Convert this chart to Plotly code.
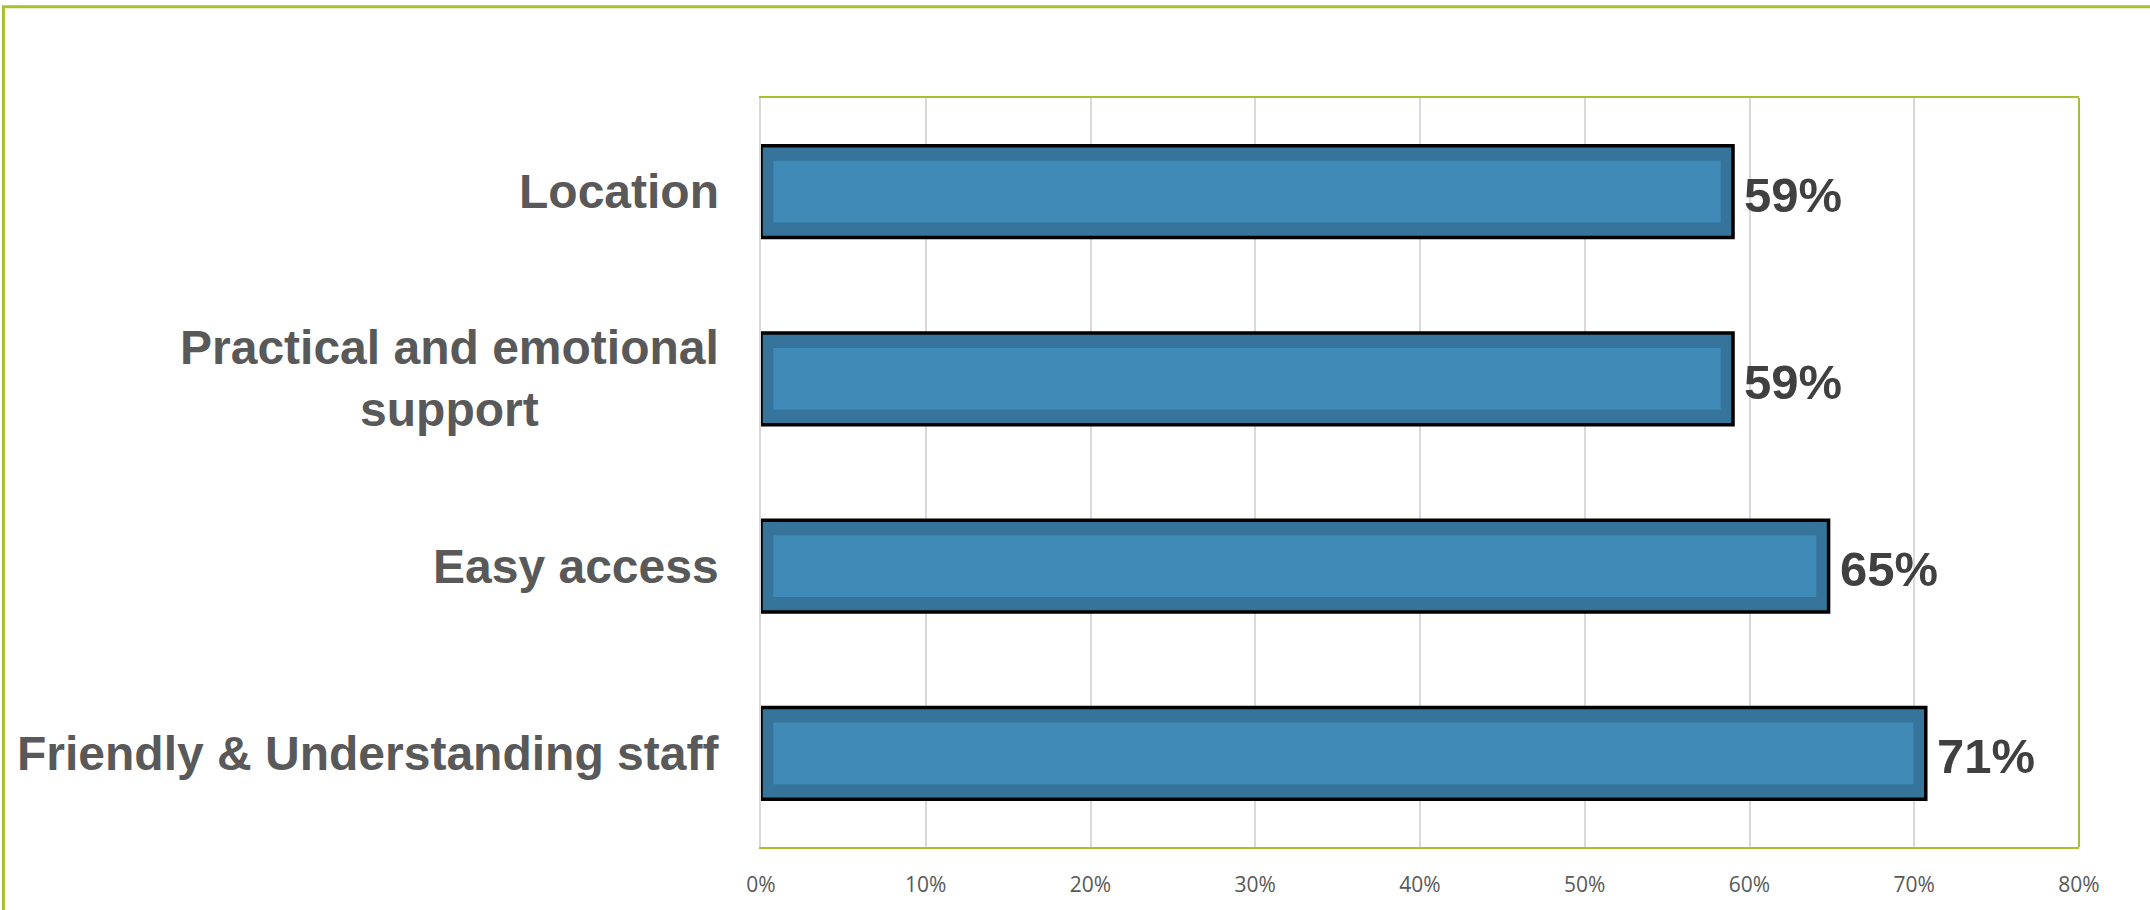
import plotly.graph_objects as go

categories = ["Friendly & Understanding staff", "Easy access",
              "Practical and emotional<br>support", "Location"]
values = [0.707, 0.648, 0.59, 0.59]
tick_vals = [0, 0.1, 0.2, 0.3, 0.4, 0.5, 0.6, 0.7, 0.8]
tick_text = ["0%", "10%", "20%", "30%", "40%", "50%", "60%", "70%", "80%"]

GREEN = "#A8BF2E"
OUTER = "#36749B"
INNER = "#3F8AB6"
INSET = 0.0075

fig = go.Figure()
fig.add_trace(go.Bar(
    y=categories, x=values, orientation="h", width=0.49,
    marker=dict(color=OUTER, line=dict(color="#000000", width=3.5)),
    hoverinfo="skip", showlegend=False))
fig.add_trace(go.Bar(
    y=categories, x=[v - 2 * INSET for v in values], base=[INSET] * len(values),
    orientation="h", width=0.33,
    marker=dict(color=INNER, line=dict(width=0)),
    hoverinfo="skip", showlegend=False))

annotations = []
for c, v in zip(categories, values):
    annotations.append(dict(
        x=v, y=c, xref="x", yref="y", text=f"<b>{round(v*100)}%</b>",
        xanchor="left", yanchor="middle", xshift=9, yshift=-3, showarrow=False,
        font=dict(family="Liberation Sans", size=49, color="#404040")))
    annotations.append(dict(
        x=0, y=c, xref="paper", yref="y", text=f"<b>{c}</b>",
        xanchor="right", yanchor="middle", xshift=-40, showarrow=False,
        align="center",
        font=dict(family="Liberation Sans", size=48, color="#595959")))

fig.update_layout(
    width=2150, height=910,
    margin=dict(l=761, r=71, t=98, b=56),
    paper_bgcolor="white", plot_bgcolor="white",
    barmode="overlay", bargap=0.5,
    annotations=annotations,
    xaxis=dict(range=[0, 0.8], tickvals=tick_vals, ticktext=tick_text,
               showgrid=True, gridcolor="#D9D9D9", gridwidth=2,
               showline=True, linecolor=GREEN, linewidth=2, mirror=True,
               zeroline=False, ticks="", ticklabelstandoff=18,
               tickfont=dict(family="Open Sans", size=21, color="#595959")),
    yaxis=dict(showticklabels=False, showgrid=False, zeroline=False,
               showline=True, linecolor="#D9D9D9", linewidth=2,
               range=[-0.5, 3.5]),
    shapes=[
        dict(type="line", xref="paper", yref="paper", x0=1, x1=1, y0=0, y1=1,
             line=dict(color=GREEN, width=2)),
        dict(type="rect", xref="paper", yref="paper",
             x0=-0.5748, x1=1.2, y0=-0.3, y1=1.1217,
             line=dict(color=GREEN, width=3), layer="below"),
    ],
)

fig.write_html("out.html")
